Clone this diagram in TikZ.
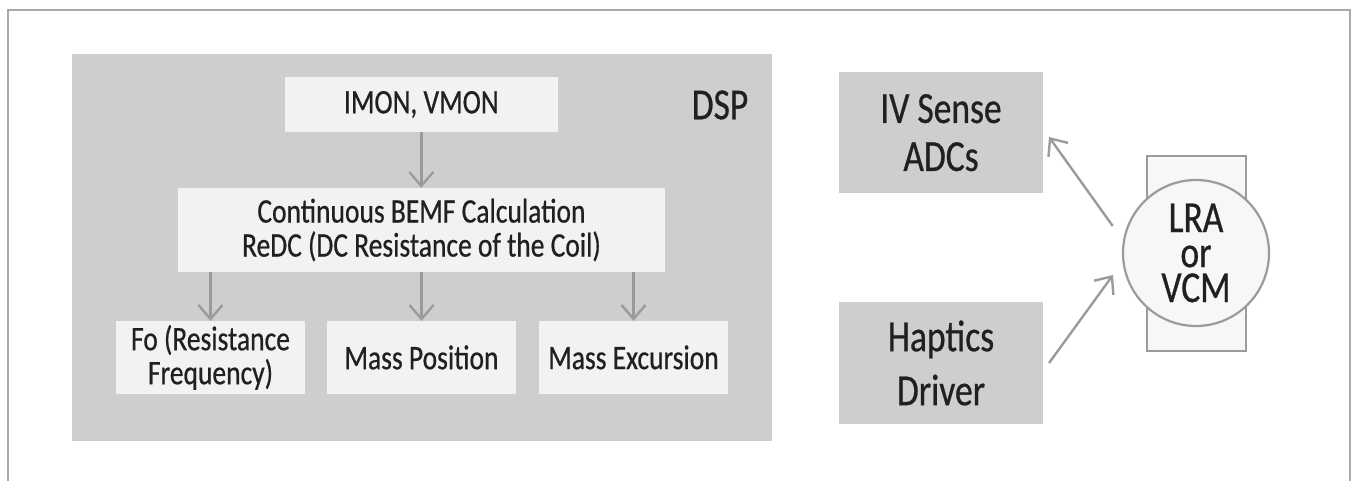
\documentclass[tikz,border=0pt]{standalone}
\usepackage{fontspec}
\setmainfont[FakeStretch=0.8,FakeBold=0.6]{Carlito}
\usetikzlibrary{arrows.meta,calc}
\definecolor{panel}{HTML}{CDCED0}
\definecolor{inner}{HTML}{F1F2F4}
\definecolor{arrowgray}{HTML}{9A9B9D}
\definecolor{framegray}{HTML}{A9A9A9}
\definecolor{txt}{HTML}{231F20}
\definecolor{lrafill}{HTML}{F6F7F8}
\begin{document}
\begin{tikzpicture}[x=1pt,y=-1pt,
  smallfont/.style={font=\fontsize{34.4}{34}\selectfont},
  innerbox/.style={fill=inner, draw=none, text=txt, inner sep=0pt, align=center, smallfont},
  sidebox/.style={fill=panel, draw=none, text=txt, inner sep=0pt, align=center, minimum width=204pt, minimum height=121.5pt},
  arr/.style={draw=arrowgray, line width=2.4pt, -{Straight Barb[length=14pt,width=24pt,line width=2.4pt]}},
]
\useasboundingbox (0,0) rectangle (1353,481);
% outer frame
\draw[framegray, line width=1.8pt] (8,482) -- (8,10) -- (1350,10) -- (1350,482);
% DSP panel
\node[fill=panel, draw=none, inner sep=0pt, minimum width=700pt, minimum height=386.7pt, anchor=north west] (dsp) at (72,54) {};
\node[text=txt, inner sep=0pt, font=\fontsize{44.4}{48}\selectfont] (dsplabel) at (720,105) {DSP};
% inner boxes
\node[innerbox, minimum width=272.7pt, minimum height=54.7pt] (imon) at (421.3,104.4) {IMON, VMON};
\node[innerbox, minimum width=487pt, minimum height=84pt] (cont) at (421.5,230) {Continuous BEMF Calculation\\ReDC (DC Resistance of the Coil)};
\node[innerbox, minimum width=189pt, minimum height=72.7pt] (fo) at (210.5,357.4) {Fo (Resistance\\Frequency)};
\node[innerbox, minimum width=189pt, minimum height=72.7pt] (mpos) at (421.5,357.4) {Mass Position};
\node[innerbox, minimum width=189pt, minimum height=72.7pt] (mexc) at (633.5,357.4) {Mass Excursion};
% arrows inside DSP
\draw[arr] (imon.south) -- (imon.south |- cont.north);
\draw[arr] (fo.north |- cont.south) -- (fo.north);
\draw[arr] (mpos.north |- cont.south) -- (mpos.north);
\draw[arr] (mexc.north |- cont.south) -- (mexc.north);
% right side
\node[sidebox, font=\fontsize{44.4}{48}\selectfont] (iv) at (941,132.7) {IV Sense\\ADCs};
\node[sidebox, font=\fontsize{44.4}{54}\selectfont] (hap) at (941,363) {Haptics\\Driver};
\node[draw=arrowgray, fill=lrafill, line width=2.2pt, inner sep=0pt, minimum width=98.7pt, minimum height=195pt] (lrabox) at (1196.3,253.2) {};
\node[circle, draw=arrowgray, fill=lrafill, line width=2.2pt, inner sep=0pt, minimum size=146pt, text=txt, align=center, font=\fontsize{44.4}{35}\selectfont] (lra) at (1196,253) {LRA\\or\\VCM};
\coordinate (s1) at (1112.7,226);
\coordinate (e1) at (1049,137);
\coordinate (s2) at (1049,363);
\coordinate (e2) at (1113,275);
\draw[arr] (s1) -- (e1);
\draw[arr] (s2) -- (e2);
\end{tikzpicture}
\end{document}
